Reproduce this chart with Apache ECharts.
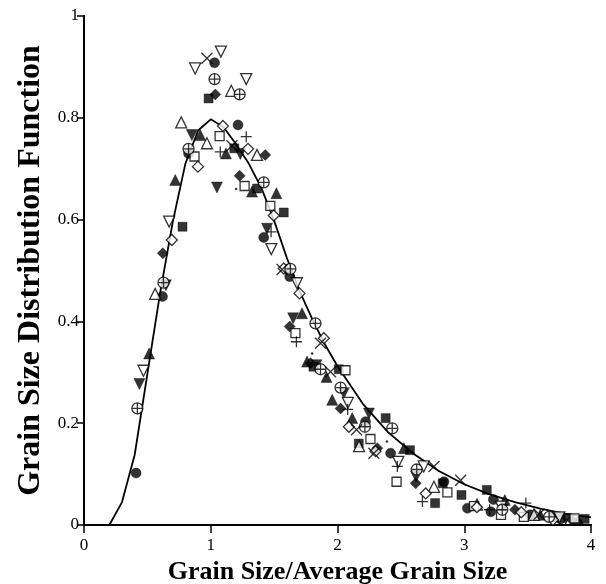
<!DOCTYPE html>
<html>
<head>
<meta charset="utf-8">
<script src="https://cdn.jsdelivr.net/npm/echarts@6/dist/echarts.min.js"></script>
<style>
  html, body { margin: 0; padding: 0; background: #fff; }
  #chart { width: 606px; height: 584px; }
</style>
</head>
<body>
<div id="chart"></div>
<script>
// Fitted distribution curve (normalised grain size vs. distribution function)
const curveX = [0.14, 0.2, 0.3, 0.4, 0.5, 0.6, 0.7, 0.8, 0.9, 1.0, 1.1, 1.2, 1.3, 1.4, 1.5, 1.6, 1.7, 1.8, 1.9, 2.0, 2.2, 2.4, 2.6, 2.8, 3.0, 3.2, 3.4, 3.6, 3.8, 4.0];
const curveY = [0, 0, 0.045, 0.138, 0.297, 0.455, 0.595, 0.71, 0.775, 0.797, 0.782, 0.748, 0.71, 0.662, 0.598, 0.525, 0.46, 0.405, 0.355, 0.312, 0.238, 0.182, 0.14, 0.106, 0.08, 0.06, 0.045, 0.032, 0.022, 0.015];

// Measured data sets, each as [x, y] pairs
const filledCircle = [[1.03, 0.908], [1.215, 0.786], [0.825, 0.73], [1.418, 0.565], [0.619, 0.449], [0.411, 0.102], [1.623, 0.488], [2.221, 0.203], [2.419, 0.141], [2.84, 0.085], [3.23, 0.05], [3.025, 0.033], [3.21, 0.026], [3.52, 0.02], [3.76, 0.012]];
const filledSquare = [[0.983, 0.838], [1.186, 0.74], [1.365, 0.661], [1.576, 0.614], [0.777, 0.586], [1.81, 0.311], [2.01, 0.306], [2.38, 0.21], [2.168, 0.16], [2.572, 0.147], [2.83, 0.082], [2.77, 0.043], [2.978, 0.059], [3.178, 0.069], [3.7, 0.015], [3.95, 0.012]];
const filledUp = [[0.917, 0.766], [1.12, 0.73], [0.72, 0.678], [1.326, 0.655], [1.518, 0.652], [0.514, 0.337], [1.72, 0.416], [1.76, 0.321], [1.913, 0.291], [1.958, 0.246], [2.116, 0.21], [2.524, 0.151], [3.32, 0.049], [3.6, 0.02], [3.9, 0.01]];
const filledDown = [[0.851, 0.766], [1.233, 0.729], [1.049, 0.663], [1.444, 0.582], [0.646, 0.471], [0.437, 0.277], [1.65, 0.406], [1.834, 0.314], [2.05, 0.259], [2.248, 0.219], [2.62, 0.095], [3.3, 0.03], [3.8, 0.012]];
const filledDiamond = [[1.036, 0.846], [1.43, 0.727], [1.228, 0.686], [0.622, 0.534], [1.623, 0.39], [1.787, 0.318], [2.024, 0.229], [2.314, 0.151], [2.617, 0.082], [3.4, 0.03], [3.85, 0.01]];
const openUp = [[1.162, 0.853], [0.767, 0.791], [0.97, 0.75], [1.365, 0.727], [0.561, 0.454], [2.17, 0.155], [2.761, 0.075], [3.1, 0.04], [3.55, 0.02]];
const openDown = [[1.08, 0.93], [0.877, 0.897], [1.28, 0.876], [0.672, 0.596], [1.478, 0.542], [1.68, 0.475], [0.469, 0.303], [2.082, 0.24], [2.48, 0.124], [2.68, 0.115], [3.29, 0.036], [3.75, 0.015]];
const openSquare = [[1.07, 0.764], [0.872, 0.724], [1.267, 0.666], [1.47, 0.627], [1.668, 0.377], [2.063, 0.304], [2.26, 0.169], [2.466, 0.085], [2.867, 0.064], [3.077, 0.037], [3.29, 0.02], [3.47, 0.016], [3.87, 0.013]];
const openDiamond = [[1.096, 0.784], [0.899, 0.704], [1.294, 0.739], [1.497, 0.608], [0.693, 0.56], [1.576, 0.504], [1.70, 0.455], [1.892, 0.367], [2.09, 0.193], [2.3, 0.145], [2.696, 0.062], [3.1, 0.035], [3.45, 0.025], [3.7, 0.01]];
const circlePlus = [[1.03, 0.876], [1.228, 0.846], [0.825, 0.739], [1.418, 0.673], [0.627, 0.476], [0.421, 0.229], [1.628, 0.503], [1.826, 0.396], [1.866, 0.306], [2.024, 0.27], [2.216, 0.193], [2.432, 0.19], [2.625, 0.109], [3.3, 0.03], [3.67, 0.016]];
const plusMark = [[1.28, 0.763], [1.075, 0.733], [1.476, 0.576], [1.676, 0.36], [2.08, 0.227], [2.472, 0.115], [2.67, 0.046], [3.486, 0.043], [3.2, 0.03]];
const crossMark = [[0.97, 0.917], [1.167, 0.745], [1.563, 0.502], [1.866, 0.357], [1.945, 0.301], [2.15, 0.187], [2.287, 0.141], [2.761, 0.115], [2.972, 0.088], [3.59, 0.021]];
const smallDot = [[1.2, 0.66], [1.8, 0.337], [2.39, 0.164]];

const xTicks = [0, 1, 2, 3, 4];
const yTicks = [0, 0.2, 0.4, 0.6, 0.8, 1];

const SERIF = '"Liberation Serif", "DejaVu Serif", serif';
const INK = '#000';

const SYM_CIRCLE_PLUS = 'path://M-5,0A5,5 0 1,0 5,0A5,5 0 1,0 -5,0ZM0,-5L0,5M-5,0L5,0';
const SYM_PLUS = 'path://M0,-5L0,5M-5,0L5,0';
const SYM_CROSS = 'path://M-5,-5L5,5M-5,5L5,-5';

function scatter(name, data, symbol, size, open, rotate) {
  return {
    name: name,
    type: 'scatter',
    data: data,
    symbol: symbol,
    symbolSize: size,
    symbolRotate: rotate || 0,
    z: 3,
    itemStyle: open
      ? { color: '#fff', borderColor: INK, borderWidth: 1.3 }
      : { color: INK, borderColor: INK, borderWidth: 0.5 },
    emphasis: { disabled: true }
  };
}

function strokeOnly(name, data, symbol, size) {
  return {
    name: name,
    type: 'scatter',
    data: data,
    symbol: symbol,
    symbolSize: size,
    z: 3,
    itemStyle: { color: 'rgba(0,0,0,0)', borderColor: INK, borderWidth: 1.3 },
    emphasis: { disabled: true }
  };
}

const chart = echarts.init(document.getElementById('chart'), null, { renderer: 'canvas' });

const xBase = { type: 'value', min: xTicks[0], max: xTicks[xTicks.length - 1], interval: 1, splitLine: { show: false } };
const yBase = { type: 'value', min: yTicks[0], max: yTicks[yTicks.length - 1], interval: 0.2, splitLine: { show: false } };

chart.setOption({
  animation: false,
  backgroundColor: '#fff',
  grid: { left: 84, right: 15, top: 16, bottom: 59, containLabel: false, outerBoundsMode: 'none' },
  xAxis: [
    Object.assign({}, xBase, {
      position: 'bottom',
      name: 'Grain Size/Average Grain Size',
      nameLocation: 'middle',
      nameGap: 24,
      nameTextStyle: { fontFamily: SERIF, fontWeight: 'bold', fontSize: 26, color: INK },
      axisLine: { lineStyle: { color: INK, width: 2 } },
      axisTick: { inside: false, length: 8, lineStyle: { color: INK, width: 1.5 } },
      axisLabel: { fontFamily: SERIF, fontSize: 17, color: INK, margin: 12 }
    }),
    Object.assign({}, xBase, {
      position: 'top',
      axisLine: { lineStyle: { color: INK, width: 2 } },
      axisTick: { inside: true, length: 7, lineStyle: { color: INK, width: 1.5 } },
      axisLabel: { show: false }
    })
  ],
  yAxis: [
    Object.assign({}, yBase, {
      position: 'left',
      name: 'Grain Size Distribution Function',
      nameLocation: 'middle',
      nameGap: 35,
      nameTextStyle: { fontFamily: SERIF, fontWeight: 'bold', fontSize: 32, color: INK },
      axisLine: { lineStyle: { color: INK, width: 2 } },
      axisTick: { inside: false, length: 5, lineStyle: { color: INK, width: 1.5 } },
      axisLabel: { fontFamily: SERIF, fontSize: 17, color: INK, margin: 5 }
    }),
    Object.assign({}, yBase, {
      position: 'right',
      axisLine: { lineStyle: { color: INK, width: 2 } },
      axisTick: { inside: true, length: 7, lineStyle: { color: INK, width: 1.5 } },
      axisLabel: { show: false }
    })
  ],
  series: [
    {
      name: 'fit',
      type: 'line',
      data: curveX.map((x, i) => [x, curveY[i]]),
      showSymbol: false,
      smooth: false,
      z: 2,
      lineStyle: { color: INK, width: 1.8 },
      emphasis: { disabled: true }
    },
    scatter('A', filledCircle, 'circle', 10, false),
    scatter('B', filledSquare, 'rect', 9, false),
    scatter('C', filledUp, 'triangle', 11, false),
    scatter('D', filledDown, 'triangle', 11, false, 180),
    scatter('E', filledDiamond, 'diamond', 11, false),
    scatter('F', openUp, 'triangle', 11, true),
    scatter('G', openDown, 'triangle', 11, true, 180),
    scatter('H', openSquare, 'rect', 9, true),
    scatter('I', openDiamond, 'diamond', 11, true),
    scatter('J', circlePlus, SYM_CIRCLE_PLUS, 11, true),
    strokeOnly('K', plusMark, SYM_PLUS, 11),
    strokeOnly('L', crossMark, SYM_CROSS, 11),
    scatter('M', smallDot, 'circle', 2, false)
  ]
});
</script>
</body>
</html>
